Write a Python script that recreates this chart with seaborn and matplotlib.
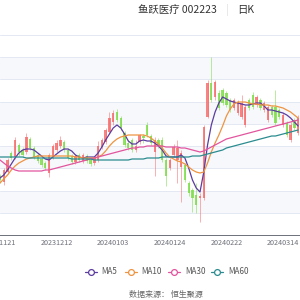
import matplotlib
matplotlib.use("Agg")
import matplotlib.pyplot as plt
from matplotlib.lines import Line2D
import seaborn as sns
import numpy as np
import pandas as pd

sns.set_style("white")
plt.rcParams['font.family'] = ['Noto Sans CJK SC', 'DejaVu Sans']

# ---- data (trading days, OHLC, moving averages) ----
dates = (
    ['20231121', '20231122', '20231123', '20231124', '20231127', '20231128', '20231129', '20231130',
     '20231201', '20231204', '20231205', '20231206', '20231207', '20231208', '20231211', '20231212',
     '20231213', '20231214', '20231215', '20231218', '20231219', '20231220', '20231221', '20231222',
     '20231225', '20231226', '20231227', '20231228', '20231229', '20240102', '20240103',
     '20240104', '20240105', '20240108', '20240109', '20240110', '20240111', '20240112', '20240115',
     '20240116', '20240117', '20240118', '20240119', '20240122', '20240123', '20240124',
     '20240125', '20240126', '20240129', '20240130', '20240131', '20240201', '20240202', '20240205',
     '20240206', '20240207', '20240208', '20240219', '20240220', '20240221', '20240222',
     '20240223', '20240226', '20240227', '20240228', '20240229', '20240301', '20240304', '20240305',
     '20240306', '20240307', '20240308', '20240311', '20240312', '20240313', '20240314',
     '20240315', '20240318', '20240319', '20240320']
)
open_ = [32.4, 31.8, 32.8, 34.7, 34.3, 35.5, 35.0, 34.8, 36.1, 35.2,
         34.5, 34.1, 33.7, 32.7, 34.3, 35.0, 35.4, 35.8, 35.0, 34.4,
         33.8, 34.5, 33.9, 34.4, 34.0, 33.7, 34.0, 35.3, 35.8, 36.8,
         37.8, 38.8, 38.2, 36.7, 35.7, 36.0, 35.0, 35.8, 36.4, 37.5,
         36.4, 34.8, 36.0, 36.0, 34.0, 33.2, 34.5, 34.0, 33.3, 33.5,
         31.7, 31.0, 30.5, 30.2, 30.2, 38.3, 41.7, 40.3, 40.7, 41.0,
         40.7, 40.0, 39.2, 38.7, 38.3, 37.5, 40.0, 40.5, 39.5, 40.0,
         39.0, 38.0, 39.3, 39.3, 39.0, 37.5, 37.7, 36.0, 38.0, 36.7]
close = [32.0, 33.0, 34.0, 34.2, 36.0, 34.8, 34.5, 36.3, 35.2, 34.3,
         33.9, 33.5, 33.2, 34.5, 35.4, 35.7, 36.0, 35.0, 34.2, 33.8,
         34.4, 34.0, 34.5, 33.9, 33.6, 34.2, 35.4, 36.0, 37.0, 38.2,
         38.7, 38.0, 37.2, 35.5, 35.2, 35.0, 35.4, 36.5, 36.2, 36.5,
         35.7, 36.0, 35.4, 34.0, 32.4, 34.0, 35.3, 35.2, 34.7, 32.0,
         30.7, 30.2, 29.5, 30.4, 37.3, 41.7, 40.0, 41.8, 39.2, 39.7,
         39.5, 39.0, 40.0, 39.8, 39.7, 39.3, 39.2, 39.3, 40.3, 39.2,
         39.7, 39.3, 38.5, 37.7, 38.3, 38.5, 36.5, 37.5, 37.2, 38.2]
high = [32.6, 33.2, 34.2, 34.9, 36.3, 35.7, 35.3, 36.7, 36.3, 35.4,
        34.7, 34.3, 33.9, 34.7, 35.6, 36.0, 36.4, 36.0, 35.2, 34.6,
        34.6, 34.7, 34.7, 34.6, 34.2, 34.4, 35.9, 36.2, 37.2, 38.8,
        39.0, 39.1, 38.4, 36.9, 36.0, 36.2, 36.0, 36.6, 36.6, 37.8,
        36.6, 36.3, 36.2, 36.3, 34.2, 34.2, 35.6, 36.0, 35.0, 33.7,
        31.9, 31.2, 31.7, 30.7, 37.5, 42.0, 44.3, 42.0, 41.0, 41.2,
        40.9, 40.2, 40.2, 40.0, 40.5, 39.5, 40.2, 40.8, 40.5, 40.2,
        39.9, 39.5, 39.5, 41.0, 39.2, 38.7, 37.9, 37.8, 38.2, 38.5]
low = [31.7, 31.5, 32.6, 34.0, 34.1, 34.4, 34.3, 34.6, 35.0, 34.1,
       33.7, 33.3, 33.0, 32.3, 34.1, 34.8, 35.2, 34.8, 34.0, 33.6,
       33.6, 33.8, 33.7, 33.7, 33.4, 33.5, 33.8, 35.1, 35.6, 36.6,
       37.5, 37.8, 37.0, 35.3, 35.0, 34.8, 34.8, 35.6, 35.7, 36.3,
       35.5, 32.4, 35.2, 33.8, 31.4, 33.0, 34.3, 31.7, 29.8, 31.8,
       30.4, 28.8, 28.7, 27.8, 30.0, 38.2, 39.8, 40.0, 39.0, 39.5,
       39.3, 38.8, 39.0, 38.5, 38.1, 37.3, 39.0, 39.1, 39.3, 39.0,
       38.8, 37.8, 38.3, 37.5, 38.1, 37.3, 36.3, 35.8, 37.0, 36.5]

ma5 = [32.2, 32.5, 33.0, 33.6, 34.2, 34.7, 35.0, 35.1, 35.1, 35.0,
       34.7, 34.4, 34.1, 34.0, 34.3, 34.6, 34.9, 35.1, 35.1, 34.9,
       34.5, 34.3, 34.2, 34.3, 34.3, 34.3, 34.7, 35.3, 36.0, 36.6,
       37.2, 37.5, 37.2, 36.6, 35.9, 35.6, 35.6, 35.9, 36.0, 35.9,
       35.9, 35.7, 35.4, 35.0, 34.4, 34.3, 34.3, 34.3, 34.5, 34.2,
       33.2, 32.0, 31.2, 30.8, 32.8, 35.5, 37.5, 38.8, 39.7, 40.3,
       40.1, 39.9, 39.8, 39.7, 39.6, 39.5, 39.5, 39.6, 39.7, 39.7,
       39.4, 39.0, 39.0, 38.9, 38.8, 38.7, 38.5, 38.2, 37.8, 37.4]
ma10 = [31.7, 32.1, 32.5, 33.0, 33.4, 33.7, 33.9, 34.1, 34.2, 34.3,
        34.4, 34.4, 34.4, 34.4, 34.4, 34.4, 34.4, 34.4, 34.4, 34.4,
        34.3, 34.3, 34.2, 34.2, 34.2, 34.2, 34.3, 34.5, 34.9, 35.4,
        35.8, 36.1, 36.3, 36.4, 36.5, 36.5, 36.5, 36.5, 36.5, 36.4,
        36.2, 35.9, 35.6, 35.2, 34.7, 34.3, 34.1, 33.9, 33.8, 33.6,
        33.3, 33.0, 32.8, 32.7, 32.8, 33.7, 34.8, 35.7, 36.5, 37.4,
        38.4, 39.1, 39.6, 39.8, 39.8, 39.8, 39.7, 39.6, 39.6, 39.5,
        39.5, 39.5, 39.4, 39.4, 39.3, 39.2, 39.0, 38.8, 38.5, 38.2]
ma30 = [34.0, 33.7, 33.4, 33.2, 33.0, 32.9, 32.9, 32.9, 32.9, 32.9,
        32.9, 32.9, 33.0, 33.0, 33.1, 33.2, 33.3, 33.4, 33.5, 33.6,
        33.7, 33.8, 33.9, 34.0, 34.1, 34.2, 34.3, 34.4, 34.5, 34.6,
        34.7, 34.8, 34.9, 35.0, 35.1, 35.2, 35.2, 35.3, 35.3, 35.4,
        35.4, 35.4, 35.4, 35.4, 35.3, 35.3, 35.3, 35.3, 35.2, 35.2,
        35.1, 35.0, 34.9, 34.8, 34.9, 35.1, 35.3, 35.5, 35.7, 35.9,
        36.1, 36.2, 36.3, 36.4, 36.5, 36.6, 36.7, 36.8, 36.9, 37.0,
        37.1, 37.2, 37.3, 37.4, 37.5, 37.6, 37.7, 37.8, 37.9, 38.0]
ma60 = [34.3, 34.3, 34.3, 34.3, 34.3, 34.3, 34.3, 34.2, 34.2, 34.2,
        34.2, 34.2, 34.2, 34.2, 34.2, 34.2, 34.2, 34.2, 34.2, 34.1,
        34.1, 34.1, 34.1, 34.1, 34.1, 34.0, 34.0, 34.0, 34.0, 34.0,
        34.0, 34.0, 34.0, 34.0, 34.0, 34.1, 34.1, 34.1, 34.1, 34.2,
        34.2, 34.2, 34.2, 34.3, 34.3, 34.3, 34.3, 34.3, 34.3, 34.3,
        34.3, 34.4, 34.4, 34.4, 34.5, 34.6, 34.7, 34.8, 34.9, 35.0,
        35.2, 35.3, 35.4, 35.5, 35.6, 35.7, 35.8, 35.9, 36.0, 36.1,
        36.2, 36.3, 36.4, 36.4, 36.5, 36.6, 36.7, 36.8, 36.9, 37.0]

ma_names = ['MA5', 'MA10', 'MA30', 'MA60']
ma_colors = ['#5b3c9f', '#ee9441', '#e2559e', '#2b8c8f']
tick_idx = [0, 15, 30, 45, 60, 75]

# ---- figure ----
fig = plt.figure(figsize=(3, 3), dpi=100)
ax = fig.add_axes([0, 65 / 300, 1, 200 / 300])

x = np.arange(len(dates))
o = np.array(open_)
c = np.array(close)
h = np.array(high)
l = np.array(low)

ax.set_xlim(0.13, 79.5)
ax.set_ylim(26.5, 46.5)

# alternating split areas + grid lines
edges = np.linspace(26.5, 46.5, 10)
for k in range(9):
    if k % 2 == 1:
        ax.axhspan(edges[k], edges[k + 1], color='#f6f8fc', lw=0, zorder=0)
for e in edges[1:]:
    ax.axhline(e, color='#e3e8f2', lw=0.7, zorder=0.5)

# candles (semi-transparent like the original)
up = c >= o
cols = np.where(up, '#f76d6d', '#7fdd4a')
ax.vlines(x, l, h, colors=cols, lw=0.7, alpha=0.55, zorder=2)
ax.bar(x, np.maximum(np.abs(c - o), 0.06), bottom=np.minimum(o, c), width=0.62,
       color=cols, lw=0, alpha=0.85, zorder=3)

# moving averages
df = pd.DataFrame({'i': x, 'MA5': ma5, 'MA10': ma10, 'MA30': ma30, 'MA60': ma60})
df = df.melt(id_vars='i', var_name='ma', value_name='price')
sns.lineplot(data=df, x='i', y='price', hue='ma', hue_order=ma_names,
             palette=dict(zip(ma_names, ma_colors)), lw=0.9, ax=ax,
             legend=False, sort=False, zorder=4)

ax.set_xlabel('')
ax.set_ylabel('')
ax.set_yticks([])
ax.set_xticks(tick_idx)
ax.set_xticklabels([dates[i] for i in tick_idx], fontsize=5.2, color='#6e7079')
ax.tick_params(axis='x', length=2.2, width=0.6, color='#6e7079', pad=0.8)
for s in ['top', 'left', 'right']:
    ax.spines[s].set_visible(False)
ax.spines['bottom'].set_color('#6e7079')
ax.spines['bottom'].set_linewidth(0.7)
ax.spines['bottom'].set_zorder(5)

# title
fig.text(138 / 300, 1 - 10 / 300, '鱼跃医疗 002223', fontsize=7.5, color='#333333',
         ha='left', va='center')
fig.text(227 / 300, 1 - 10 / 300, '|', fontsize=7, color='#dddddd', ha='center', va='center')
fig.text(237 / 300, 1 - 10 / 300, '日K', fontsize=7.5, color='#333333', ha='left', va='center')

# legend
ly = 1 - 272 / 300
for mx, tx, name, col in zip([90.7, 131, 174, 216.7], [101.7, 141, 185, 228.3],
                             ma_names, ma_colors):
    fig.add_artist(Line2D([(mx - 6) / 300, (mx + 6) / 300], [ly, ly], color=col, lw=0.9,
                          transform=fig.transFigure))
    fig.add_artist(Line2D([mx / 300], [ly], color=col, marker='o', markersize=4.2,
                          markerfacecolor='white', markeredgewidth=0.9,
                          transform=fig.transFigure))
    fig.text(tx / 300, ly, name, fontsize=5.8, color='#555555', ha='left', va='center')

fig.text(165.5 / 300, 1 - 294 / 300, '数据来源： 恒生聚源', fontsize=5.8, color='#666666',
         ha='center', va='center')

fig.savefig('out.png', dpi=100)
